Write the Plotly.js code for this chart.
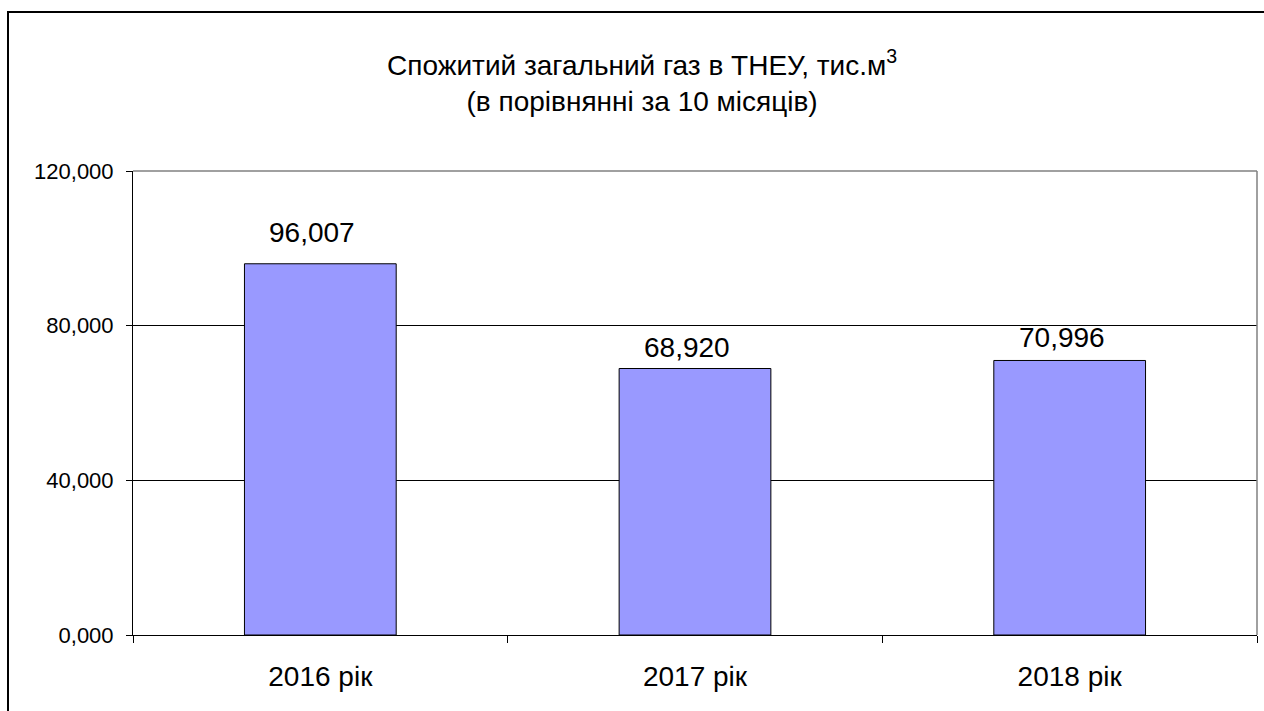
<!DOCTYPE html>
<html>
<head>
<meta charset="utf-8">
<script src="https://cdn.plot.ly/plotly-3.0.1.min.js"></script>
<style>
html,body{margin:0;padding:0;background:#fff;}
#chart{width:1264px;height:711px;}
</style>
</head>
<body>
<div id="chart"></div>
<script>
const categories = ["2016 рік", "2017 рік", "2018 рік"];
const values = [96.007, 68.920, 70.996];
const valueLabels = ["96,007", "68,920", "70,996"];
const yTickValues = [0, 40, 80, 120];
const titleText = "Спожитий загальний газ в ТНЕУ, тис.м<sup>3</sup><br>(в порівнянні за 10 місяців)";

const FONT = "Liberation Sans, Arial, sans-serif";
const labelShifts = [14, 4, 5];

const L = 133, R = 1257, T = 171, B = 635;
const W = 1264, H = 711;
const pw = R - L, ph = B - T;

const trace = {
  type: "bar",
  x: categories,
  y: values,
  marker: {color: "#9999FF", line: {color: "#000000", width: 1}},
  hoverinfo: "skip"
};

const annotations = categories.map((c, i) => ({
  x: c, y: values[i], xref: "x", yref: "y",
  text: valueLabels[i],
  showarrow: false,
  yanchor: "bottom",
  xshift: -8,
  yshift: labelShifts[i],
  font: {family: FONT, size: 28, color: "#000"}
}));

const layout = {
  width: W, height: H,
  margin: {l: L, r: W - R, t: T, b: H - B, pad: 0},
  paper_bgcolor: "#ffffff",
  plot_bgcolor: "#ffffff",
  showlegend: false,
  separators: ",.",
  bargap: 0.595,
  title: {
    text: titleText,
    font: {family: FONT, size: 28, color: "#000"},
    x: 0.508, xanchor: "center",
    y: 0.895, yanchor: "middle"
  },
  font: {family: FONT, color: "#000"},
  xaxis: {
    type: "category",
    showgrid: false,
    showline: true, linecolor: "#000", linewidth: 1,
    ticks: "outside", ticklen: 7, tickcolor: "#000", tickwidth: 1,
    tickson: "boundaries",
    ticklabelstandoff: 16,
    tickfont: {family: FONT, size: 28, color: "#000"},
    zeroline: false, fixedrange: true
  },
  yaxis: {
    range: [0, 120],
    tickmode: "array",
    tickvals: yTickValues,
    tickformat: ".3f",
    showgrid: true, gridcolor: "#000", gridwidth: 1,
    showline: true, linecolor: "#000", linewidth: 1,
    ticks: "outside", ticklen: 6, tickcolor: "#000", tickwidth: 1,
    ticklabelstandoff: 8,
    tickfont: {family: FONT, size: 22, color: "#000"},
    zeroline: false, fixedrange: true
  },
  annotations: annotations,
  shapes: [
    {type: "line", xref: "paper", yref: "paper", x0: 0, x1: 1, y0: 1, y1: 1,
     line: {color: "#808080", width: 1.5}, layer: "above"},
    {type: "line", xref: "paper", yref: "paper", x0: 1, x1: 1, y0: 0, y1: 1,
     line: {color: "#808080", width: 1.5}, layer: "above"},
    {type: "rect", xref: "paper", yref: "paper",
     x0: (8 - L) / pw, x1: (1300 - L) / pw,
     y0: (B - 760) / ph, y1: (B - 12) / ph,
     line: {color: "#000", width: 2}, fillcolor: "rgba(0,0,0,0)", layer: "above"}
  ]
};

Plotly.newPlot("chart", [trace], layout, {staticPlot: true, displayModeBar: false});
</script>
</body>
</html>
